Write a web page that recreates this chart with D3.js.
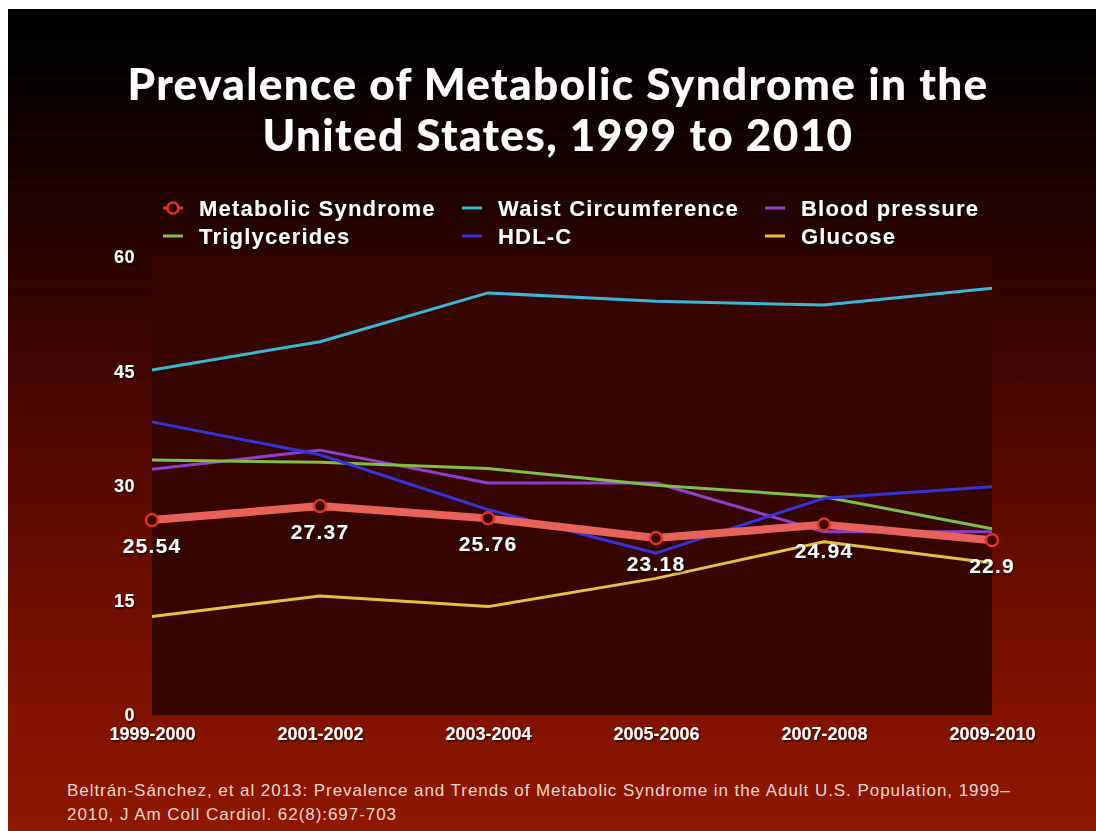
<!DOCTYPE html>
<html>
<head>
<meta charset="utf-8">
<script src="https://cdn.jsdelivr.net/npm/d3@7"></script>
<style>
  html, body { margin: 0; padding: 0; background: #fff; }
  svg { display: block; }
  text { font-family: "Liberation Sans", Arial, Helvetica, sans-serif; }
</style>
</head>
<body>
<svg id="chart" width="1096" height="831"></svg>
<script>
// ---- data ----
const periods = ["1999-2000", "2001-2002", "2003-2004", "2005-2006", "2007-2008", "2009-2010"];
const metabolicSyndrome = [25.54, 27.37, 25.76, 23.18, 24.94, 22.9];
const waistCircumference = [45.2, 48.9, 55.3, 54.2, 53.7, 55.9];
const bloodPressure = [32.2, 34.7, 30.4, 30.4, 24.0, 24.0];
const triglycerides = [33.4, 33.1, 32.3, 30.1, 28.6, 24.4];
const hdlC = [38.4, 34.1, 26.9, 21.2, 28.4, 29.9];
const glucose = [12.9, 15.6, 14.2, 17.9, 22.7, 19.9];
const yTicks = [0, 15, 30, 45, 60];
const titleLines = ["Prevalence of Metabolic Syndrome in the", "United States, 1999 to 2010"];
const sourceLines = [
  "Beltrán-Sánchez, et al 2013: Prevalence and Trends of Metabolic Syndrome in the Adult U.S. Population, 1999–",
  "2010, J Am Coll Cardiol. 62(8):697-703"
];

const seriesList = [
  { name: "Waist Circumference", values: waistCircumference, color: "#3bb6d6" },
  { name: "Blood pressure", values: bloodPressure, color: "#8e3fd0" },
  { name: "Triglycerides", values: triglycerides, color: "#7fbf45" },
  { name: "HDL-C", values: hdlC, color: "#3434dc" },
  { name: "Glucose", values: glucose, color: "#e2c244" }
];
const legendItems = [
  { name: "Metabolic Syndrome", color: "#e0341f", marker: true },
  { name: "Waist Circumference", color: "#3bb6d6" },
  { name: "Blood pressure", color: "#8e3fd0" },
  { name: "Triglycerides", color: "#7fbf45" },
  { name: "HDL-C", color: "#3434dc" },
  { name: "Glucose", color: "#e2c244" }
];

const svg = d3.select("#chart");
const defs = svg.append("defs");

// background gradient
const bg = defs.append("linearGradient").attr("id", "bg")
  .attr("gradientUnits", "userSpaceOnUse")
  .attr("x1", 0).attr("y1", 9).attr("x2", 0).attr("y2", 831);
[[9, "#000000"], [60, "#030000"], [150, "#120200"], [250, "#2a0400"], [320, "#380500"],
 [420, "#4c0800"], [550, "#650c00"], [715, "#811200"], [831, "#8e1800"]]
  .forEach(([o, c]) => bg.append("stop").attr("offset", (o - 9) / 822).attr("stop-color", c));

const shadow = defs.append("filter").attr("id", "shadow").attr("x", "-10%").attr("y", "-30%").attr("width", "120%").attr("height", "160%");
shadow.append("feDropShadow").attr("dx", 1).attr("dy", 1.5).attr("stdDeviation", 1).attr("flood-color", "#000").attr("flood-opacity", 0.7);

svg.append("rect").attr("x", 8).attr("y", 9).attr("width", 1088).attr("height", 822).attr("fill", "url(#bg)");

// faint horizontal stripes
const stripes = d3.range(12, 831, 9.5);
svg.append("g").selectAll("line").data(stripes).join("line")
  .attr("x1", 8).attr("x2", 1096).attr("y1", d => d).attr("y2", d => d)
  .attr("stroke", "#ff6040").attr("stroke-opacity", 0.04).attr("stroke-width", 1);

// scales
const x = d3.scalePoint().domain(periods).range([152, 992]);
const y = d3.scaleLinear().domain([0, 60]).range([715, 257]);

// plot area
svg.append("rect")
  .attr("x", x.range()[0]).attr("y", y(60))
  .attr("width", x.range()[1] - x.range()[0]).attr("height", y(0) - y(60))
  .attr("fill", "#360500");

// title (single text element, two lines)
const title = svg.append("text")
  .attr("text-anchor", "middle")
  .attr("fill", "#ffffff")
  .style("font-family", "Lato, 'Open Sans', sans-serif")
  .style("font-weight", 900)
  .style("font-size", "44px")
  .style("letter-spacing", "1.4px")
  .attr("filter", "url(#shadow)");
title.selectAll("tspan").data(titleLines).join("tspan")
  .attr("x", 558).attr("y", (d, i) => 100 + i * 51)
  .text(d => d);

// legend
const legendCols = [163, 462, 765];
const legendRows = [208, 236];
const lg = svg.append("g");
legendItems.forEach((it, i) => {
  const lx = legendCols[i % 3], ly = legendRows[Math.floor(i / 3)];
  const g = lg.append("g").attr("transform", `translate(${lx},${ly})`);
  g.append("line").attr("x1", 0).attr("x2", 20).attr("y1", 0).attr("y2", 0)
    .attr("stroke", it.color).attr("stroke-width", 3);
  if (it.marker) {
    g.append("circle").attr("cx", 10).attr("cy", 0).attr("r", 5.5)
      .attr("fill", "#2a0400").attr("stroke", it.color).attr("stroke-width", 2.5);
  }
  g.append("text").attr("x", 36).attr("y", 8)
    .attr("fill", "#ffffff")
    .style("font-weight", "bold").style("font-size", "22px")
    .style("letter-spacing", "1.2px")
    .attr("filter", "url(#shadow)")
    .text(it.name);
});

// axes
const yAxis = svg.append("g").attr("transform", `translate(${x.range()[0]},0)`)
  .call(d3.axisLeft(y).tickValues(yTicks).tickSize(0).tickPadding(17));
yAxis.select(".domain").remove();
yAxis.selectAll("text")
  .attr("fill", "#ffffff").attr("font-family", null)
  .style("font-weight", "bold").style("font-size", "18px")
  .style("letter-spacing", "0.5px")
  .attr("filter", "url(#shadow)");

const xAxis = svg.append("g").attr("transform", `translate(0,${y(0)})`)
  .call(d3.axisBottom(x).tickSize(0).tickPadding(12));
xAxis.select(".domain").remove();
xAxis.selectAll("text")
  .attr("fill", "#ffffff").attr("font-family", null)
  .style("font-weight", "bold").style("font-size", "18px")
  .attr("filter", "url(#shadow)");

// lines
const line = d3.line().x((d, i) => x(periods[i])).y(d => y(d));
svg.append("g").selectAll("path").data(seriesList).join("path")
  .attr("d", d => line(d.values))
  .attr("fill", "none")
  .attr("stroke", d => d.color)
  .attr("stroke-width", 3)
  .attr("stroke-linejoin", "round");

// metabolic syndrome
svg.append("path")
  .attr("d", line(metabolicSyndrome))
  .attr("fill", "none")
  .attr("stroke", "#e8625c")
  .attr("stroke-width", 8)
  .attr("stroke-linejoin", "round");
svg.append("g").selectAll("circle").data(metabolicSyndrome).join("circle")
  .attr("cx", (d, i) => x(periods[i])).attr("cy", d => y(d))
  .attr("r", 6)
  .attr("fill", "#3a0400").attr("stroke", "#e0341f").attr("stroke-width", 2.5);

svg.append("g").selectAll("text").data(metabolicSyndrome).join("text")
  .attr("x", (d, i) => x(periods[i])).attr("y", d => y(d) + 33)
  .attr("text-anchor", "middle")
  .attr("fill", "#ffffff")
  .style("font-weight", "bold").style("font-size", "21px")
  .style("letter-spacing", "1.2px")
  .attr("filter", "url(#shadow)")
  .text(d => d);

// source
svg.append("g").selectAll("text").data(sourceLines).join("text")
  .attr("x", 67).attr("y", (d, i) => 796 + i * 24)
  .attr("fill", "#f3d6cc")
  .style("font-size", "17px")
  .style("letter-spacing", "0.95px")
  .text(d => d);
</script>
</body>
</html>
